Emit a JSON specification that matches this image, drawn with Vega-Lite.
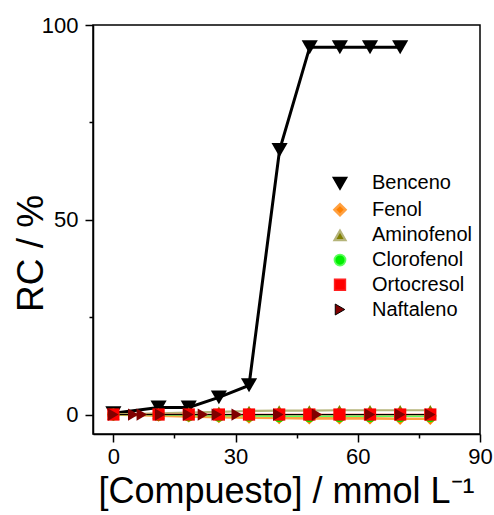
{
  "$schema": "https://vega.github.io/schema/vega-lite/v6.json",
  "width": 387,
  "height": 409,
  "autosize": {"type": "none"},
  "padding": {"left": 93, "top": 25, "right": 14, "bottom": 81},
  "background": "white",
  "config": {
    "font": "Liberation Sans",
    "view": {"stroke": "black", "strokeWidth": 1.5},
    "axis": {"grid": false, "domainColor": "black", "domainWidth": 1.5, "tickColor": "black", "tickWidth": 1.5, "labelColor": "black", "titleColor": "black", "labelFont": "Liberation Sans", "titleFont": "Liberation Sans", "titleFontWeight": "normal"},
    "legend": {
      "orient": "none", "legendX": 237, "legendY": 148,
      "title": null, "padding": 0, "labelFontSize": 20, "labelColor": "black", "labelFont": "Liberation Sans",
      "symbolSize": 120, "labelOffset": 22, "rowPadding": 4.7, "symbolOpacity": 1
    }
  },
  "data": {
    "values": [
      {"compound": "Benceno", "x": 0, "y": 0.3},
      {"compound": "Benceno", "x": 11.1, "y": 1.8},
      {"compound": "Benceno", "x": 18.5, "y": 1.8},
      {"compound": "Benceno", "x": 25.9, "y": 4.4},
      {"compound": "Benceno", "x": 33.3, "y": 7.5},
      {"compound": "Benceno", "x": 40.8, "y": 67.9},
      {"compound": "Benceno", "x": 48.2, "y": 94.3},
      {"compound": "Benceno", "x": 55.6, "y": 94.3},
      {"compound": "Benceno", "x": 63.0, "y": 94.3},
      {"compound": "Benceno", "x": 70.4, "y": 94.3},
      {"compound": "Fenol", "x": 0, "y": 0},
      {"compound": "Fenol", "x": 11.1, "y": -0.3},
      {"compound": "Fenol", "x": 18.5, "y": -0.5},
      {"compound": "Fenol", "x": 25.9, "y": -0.7},
      {"compound": "Fenol", "x": 33.3, "y": -0.8},
      {"compound": "Fenol", "x": 40.7, "y": -0.9},
      {"compound": "Fenol", "x": 48.1, "y": -1.0},
      {"compound": "Fenol", "x": 55.5, "y": -1.0},
      {"compound": "Fenol", "x": 63.0, "y": -1.0},
      {"compound": "Fenol", "x": 70.4, "y": -1.1},
      {"compound": "Fenol", "x": 77.8, "y": -1.1},
      {"compound": "Aminofenol", "x": 0, "y": 0},
      {"compound": "Aminofenol", "x": 11.1, "y": 0.3},
      {"compound": "Aminofenol", "x": 18.5, "y": 0.5},
      {"compound": "Aminofenol", "x": 25.9, "y": 0.7},
      {"compound": "Aminofenol", "x": 33.3, "y": 0.9},
      {"compound": "Aminofenol", "x": 40.7, "y": 1.0},
      {"compound": "Aminofenol", "x": 48.1, "y": 1.0},
      {"compound": "Aminofenol", "x": 55.5, "y": 1.1},
      {"compound": "Aminofenol", "x": 63.0, "y": 1.1},
      {"compound": "Aminofenol", "x": 70.4, "y": 1.1},
      {"compound": "Aminofenol", "x": 77.8, "y": 1.1},
      {"compound": "Clorofenol", "x": 0, "y": 0},
      {"compound": "Clorofenol", "x": 11.1, "y": -0.1},
      {"compound": "Clorofenol", "x": 18.5, "y": -0.2},
      {"compound": "Clorofenol", "x": 25.9, "y": -0.3},
      {"compound": "Clorofenol", "x": 33.3, "y": -0.3},
      {"compound": "Clorofenol", "x": 40.7, "y": -0.4},
      {"compound": "Clorofenol", "x": 48.1, "y": -0.4},
      {"compound": "Clorofenol", "x": 55.5, "y": -0.4},
      {"compound": "Clorofenol", "x": 63.0, "y": -0.4},
      {"compound": "Clorofenol", "x": 70.4, "y": -0.4},
      {"compound": "Clorofenol", "x": 77.8, "y": -0.4},
      {"compound": "Ortocresol", "x": 0, "y": 0},
      {"compound": "Ortocresol", "x": 11.1, "y": 0},
      {"compound": "Ortocresol", "x": 18.5, "y": 0},
      {"compound": "Ortocresol", "x": 25.9, "y": 0},
      {"compound": "Ortocresol", "x": 33.3, "y": 0},
      {"compound": "Ortocresol", "x": 40.7, "y": 0},
      {"compound": "Ortocresol", "x": 48.1, "y": 0},
      {"compound": "Ortocresol", "x": 55.5, "y": 0},
      {"compound": "Ortocresol", "x": 63.0, "y": 0},
      {"compound": "Ortocresol", "x": 70.4, "y": 0},
      {"compound": "Ortocresol", "x": 77.8, "y": 0},
      {"compound": "Naftaleno", "x": 0, "y": 0},
      {"compound": "Naftaleno", "x": 4.9, "y": 0},
      {"compound": "Naftaleno", "x": 7.0, "y": 0},
      {"compound": "Naftaleno", "x": 11.5, "y": 0},
      {"compound": "Naftaleno", "x": 18.4, "y": 0},
      {"compound": "Naftaleno", "x": 22.0, "y": 0},
      {"compound": "Naftaleno", "x": 25.4, "y": 0},
      {"compound": "Naftaleno", "x": 30.3, "y": 0},
      {"compound": "Naftaleno", "x": 40.5, "y": 0},
      {"compound": "Naftaleno", "x": 50.0, "y": 0},
      {"compound": "Naftaleno", "x": 63.0, "y": 0},
      {"compound": "Naftaleno", "x": 70.4, "y": 0},
      {"compound": "Naftaleno", "x": 77.8, "y": 0}
    ]
  },
  "encoding": {
    "x": {
      "field": "x", "type": "quantitative",
      "scale": {"domain": [-5, 90], "nice": false, "zero": false},
      "axis": {
        "values": [0, 15, 30, 45, 60, 75, 90],
        "labelExpr": "datum.value % 30 === 0 ? datum.label : ''",
        "tickSize": {"condition": {"test": "datum.value % 30 === 0", "value": 8}, "value": 4},
        "labelFontSize": 22, "labelPadding": 4, "labelFlush": false, "labelOverlap": false,
        "title": "[Compuesto] / mmol L⁻¹", "titleFontSize": 36,
        "titleBaseline": "alphabetic", "titleY": 68, "titleX": 193
      }
    },
    "y": {
      "field": "y", "type": "quantitative",
      "scale": {"domain": [-5, 100], "nice": false, "zero": false},
      "axis": {
        "values": [0, 25, 50, 75, 100],
        "labelExpr": "datum.value % 50 === 0 ? datum.label : ''",
        "tickSize": {"condition": {"test": "datum.value % 50 === 0", "value": 8}, "value": 4},
        "labelFontSize": 22, "labelPadding": 7, "labelFlush": false, "labelOverlap": false,
        "title": "RC / %", "titleFontSize": 37,
        "titleBaseline": "alphabetic", "titleX": -51, "titleY": 228, "titleAlign": "center", "titleAngle": -90
      }
    }
  },
  "layer": [
    {
      "mark": {"type": "line"},
      "encoding": {
        "stroke": {
          "field": "compound", "type": "nominal",
          "scale": {"domain": ["Benceno", "Fenol", "Aminofenol", "Clorofenol", "Ortocresol", "Naftaleno"], "range": ["#000000", "#ffa040", "#b5b47a", "#5cff5c", "#ff2020", "#000000"]}
        },
        "strokeWidth": {
          "field": "compound", "type": "nominal",
          "scale": {"domain": ["Benceno", "Fenol", "Aminofenol", "Clorofenol", "Ortocresol", "Naftaleno"], "range": [3, 1, 1.5, 1, 1, 1]}
        }
      }
    },
    {
      "mark": {"type": "point", "filled": true, "opacity": 1},
      "encoding": {
        "fill": {
          "field": "compound", "type": "nominal",
          "scale": {"domain": ["Benceno", "Fenol", "Aminofenol", "Clorofenol", "Ortocresol", "Naftaleno"], "range": ["#000000", "#ff8000", "#808000", "#00ee00", "#ff0000", "#800000"]}
        },
        "shape": {
          "field": "compound", "type": "nominal",
          "scale": {"domain": ["Benceno", "Fenol", "Aminofenol", "Clorofenol", "Ortocresol", "Naftaleno"], "range": ["triangle-down", "diamond", "triangle-up", "circle", "square", "triangle-right"]}
        },
        "size": {"condition": {"test": "datum.compound === 'Benceno'", "value": 260}, "value": 150}
      }
    }
  ]
}
